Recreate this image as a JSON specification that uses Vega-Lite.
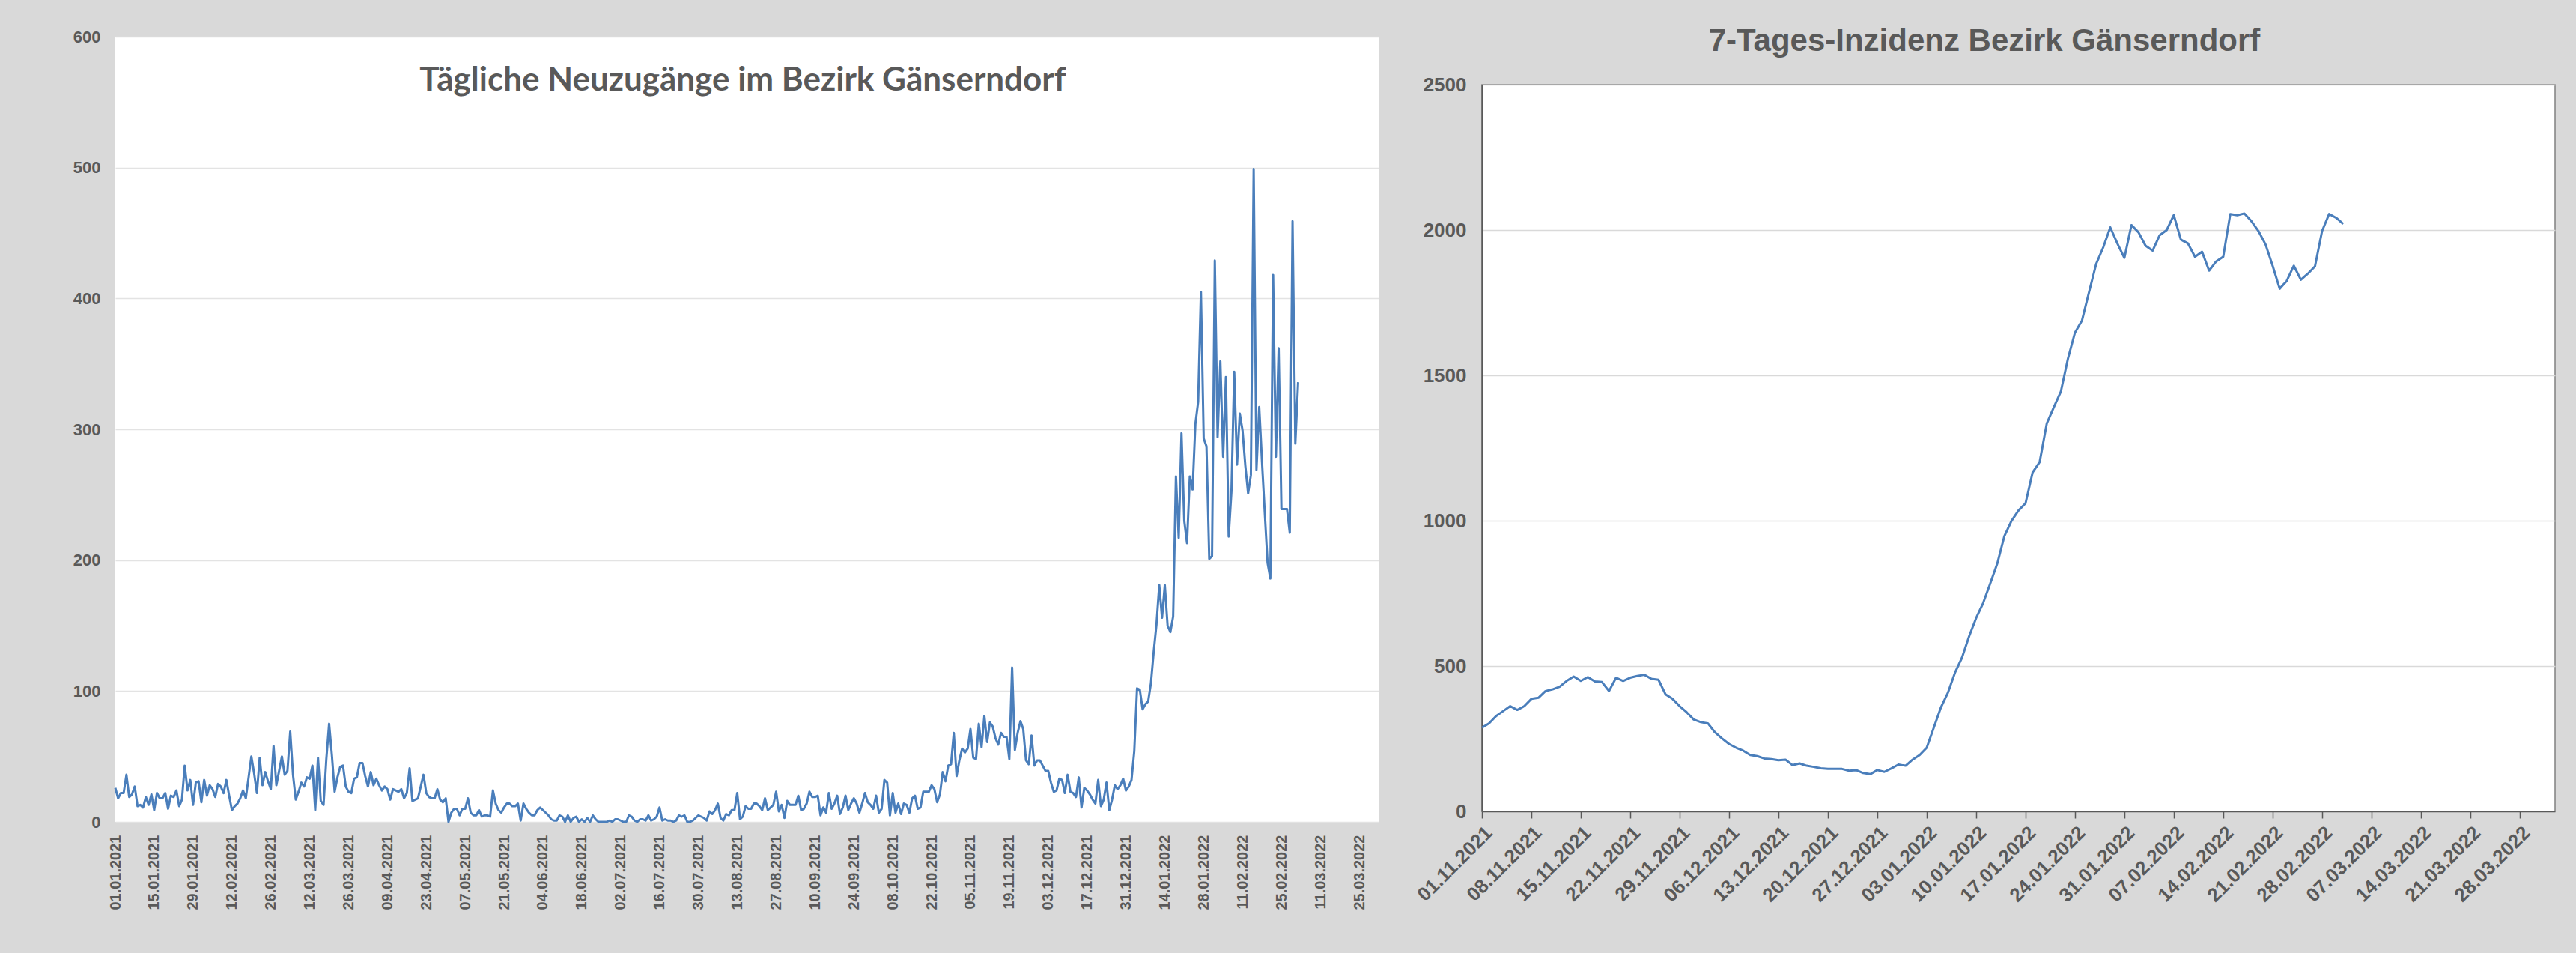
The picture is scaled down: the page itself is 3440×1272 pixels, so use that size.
{
"$schema": "https://vega.github.io/schema/vega-lite/v6.json",
"background": "#d9d9d9",
"padding": {"left": 97, "top": 33, "right": 28, "bottom": 57},
"bounds": "flush",
"spacing": 138,
"config": {"font": "Liberation Sans", "axis": {"labelFont": "Liberation Sans", "labelColor": "#595959", "labelFontWeight": "bold"}},
"datasets": {
"daily": [
{"date":"2021-01-01","cases":26},{"date":"2021-01-02","cases":18},{"date":"2021-01-03","cases":22},{"date":"2021-01-04","cases":22},{"date":"2021-01-05","cases":36},{"date":"2021-01-06","cases":19},{"date":"2021-01-07","cases":21},{"date":"2021-01-08","cases":27},{"date":"2021-01-09","cases":12},{"date":"2021-01-10","cases":13},
{"date":"2021-01-11","cases":11},{"date":"2021-01-12","cases":19},{"date":"2021-01-13","cases":13},{"date":"2021-01-14","cases":21},{"date":"2021-01-15","cases":9},{"date":"2021-01-16","cases":22},{"date":"2021-01-17","cases":18},{"date":"2021-01-18","cases":18},{"date":"2021-01-19","cases":22},{"date":"2021-01-20","cases":10},
{"date":"2021-01-21","cases":20},{"date":"2021-01-22","cases":19},{"date":"2021-01-23","cases":24},{"date":"2021-01-24","cases":12},{"date":"2021-01-25","cases":17},{"date":"2021-01-26","cases":43},{"date":"2021-01-27","cases":24},{"date":"2021-01-28","cases":32},{"date":"2021-01-29","cases":13},{"date":"2021-01-30","cases":30},{"date":"2021-01-31","cases":31},
{"date":"2021-02-01","cases":15},{"date":"2021-02-02","cases":32},{"date":"2021-02-03","cases":20},{"date":"2021-02-04","cases":28},{"date":"2021-02-05","cases":25},{"date":"2021-02-06","cases":19},{"date":"2021-02-07","cases":29},{"date":"2021-02-08","cases":27},{"date":"2021-02-09","cases":22},{"date":"2021-02-10","cases":32},
{"date":"2021-02-11","cases":20},{"date":"2021-02-12","cases":9},{"date":"2021-02-13","cases":12},{"date":"2021-02-14","cases":14},{"date":"2021-02-15","cases":18},{"date":"2021-02-16","cases":24},{"date":"2021-02-17","cases":18},{"date":"2021-02-18","cases":34},{"date":"2021-02-19","cases":50},{"date":"2021-02-20","cases":37},
{"date":"2021-02-21","cases":22},{"date":"2021-02-22","cases":49},{"date":"2021-02-23","cases":28},{"date":"2021-02-24","cases":38},{"date":"2021-02-25","cases":31},{"date":"2021-02-26","cases":25},{"date":"2021-02-27","cases":58},{"date":"2021-02-28","cases":28},
{"date":"2021-03-01","cases":39},{"date":"2021-03-02","cases":50},{"date":"2021-03-03","cases":36},{"date":"2021-03-04","cases":39},{"date":"2021-03-05","cases":69},{"date":"2021-03-06","cases":36},{"date":"2021-03-07","cases":17},{"date":"2021-03-08","cases":23},{"date":"2021-03-09","cases":30},{"date":"2021-03-10","cases":27},
{"date":"2021-03-11","cases":34},{"date":"2021-03-12","cases":33},{"date":"2021-03-13","cases":43},{"date":"2021-03-14","cases":9},{"date":"2021-03-15","cases":49},{"date":"2021-03-16","cases":16},{"date":"2021-03-17","cases":13},{"date":"2021-03-18","cases":48},{"date":"2021-03-19","cases":75},{"date":"2021-03-20","cases":51},
{"date":"2021-03-21","cases":23},{"date":"2021-03-22","cases":34},{"date":"2021-03-23","cases":42},{"date":"2021-03-24","cases":43},{"date":"2021-03-25","cases":27},{"date":"2021-03-26","cases":23},{"date":"2021-03-27","cases":22},{"date":"2021-03-28","cases":33},{"date":"2021-03-29","cases":34},{"date":"2021-03-30","cases":45},{"date":"2021-03-31","cases":45},
{"date":"2021-04-01","cases":35},{"date":"2021-04-02","cases":27},{"date":"2021-04-03","cases":38},{"date":"2021-04-04","cases":28},{"date":"2021-04-05","cases":33},{"date":"2021-04-06","cases":28},{"date":"2021-04-07","cases":24},{"date":"2021-04-08","cases":27},{"date":"2021-04-09","cases":25},{"date":"2021-04-10","cases":17},
{"date":"2021-04-11","cases":25},{"date":"2021-04-12","cases":24},{"date":"2021-04-13","cases":23},{"date":"2021-04-14","cases":25},{"date":"2021-04-15","cases":18},{"date":"2021-04-16","cases":22},{"date":"2021-04-17","cases":41},{"date":"2021-04-18","cases":16},{"date":"2021-04-19","cases":17},{"date":"2021-04-20","cases":18},
{"date":"2021-04-21","cases":27},{"date":"2021-04-22","cases":36},{"date":"2021-04-23","cases":22},{"date":"2021-04-24","cases":19},{"date":"2021-04-25","cases":18},{"date":"2021-04-26","cases":18},{"date":"2021-04-27","cases":25},{"date":"2021-04-28","cases":17},{"date":"2021-04-29","cases":15},{"date":"2021-04-30","cases":18},
{"date":"2021-05-01","cases":0},{"date":"2021-05-02","cases":7},{"date":"2021-05-03","cases":10},{"date":"2021-05-04","cases":10},{"date":"2021-05-05","cases":5},{"date":"2021-05-06","cases":10},{"date":"2021-05-07","cases":10},{"date":"2021-05-08","cases":18},{"date":"2021-05-09","cases":7},{"date":"2021-05-10","cases":5},
{"date":"2021-05-11","cases":5},{"date":"2021-05-12","cases":9},{"date":"2021-05-13","cases":4},{"date":"2021-05-14","cases":5},{"date":"2021-05-15","cases":5},{"date":"2021-05-16","cases":4},{"date":"2021-05-17","cases":24},{"date":"2021-05-18","cases":14},{"date":"2021-05-19","cases":9},{"date":"2021-05-20","cases":7},
{"date":"2021-05-21","cases":11},{"date":"2021-05-22","cases":14},{"date":"2021-05-23","cases":14},{"date":"2021-05-24","cases":12},{"date":"2021-05-25","cases":12},{"date":"2021-05-26","cases":14},{"date":"2021-05-27","cases":1},{"date":"2021-05-28","cases":14},{"date":"2021-05-29","cases":10},{"date":"2021-05-30","cases":7},{"date":"2021-05-31","cases":5},
{"date":"2021-06-01","cases":5},{"date":"2021-06-02","cases":9},{"date":"2021-06-03","cases":11},{"date":"2021-06-04","cases":9},{"date":"2021-06-05","cases":7},{"date":"2021-06-06","cases":5},{"date":"2021-06-07","cases":2},{"date":"2021-06-08","cases":1},{"date":"2021-06-09","cases":1},{"date":"2021-06-10","cases":5},
{"date":"2021-06-11","cases":4},{"date":"2021-06-12","cases":0},{"date":"2021-06-13","cases":5},{"date":"2021-06-14","cases":0},{"date":"2021-06-15","cases":3},{"date":"2021-06-16","cases":4},{"date":"2021-06-17","cases":0},{"date":"2021-06-18","cases":2},{"date":"2021-06-19","cases":0},{"date":"2021-06-20","cases":3},
{"date":"2021-06-21","cases":0},{"date":"2021-06-22","cases":5},{"date":"2021-06-23","cases":2},{"date":"2021-06-24","cases":0},{"date":"2021-06-25","cases":0},{"date":"2021-06-26","cases":0},{"date":"2021-06-27","cases":0},{"date":"2021-06-28","cases":1},{"date":"2021-06-29","cases":0},{"date":"2021-06-30","cases":2},
{"date":"2021-07-01","cases":2},{"date":"2021-07-02","cases":1},{"date":"2021-07-03","cases":0},{"date":"2021-07-04","cases":0},{"date":"2021-07-05","cases":5},{"date":"2021-07-06","cases":4},{"date":"2021-07-07","cases":1},{"date":"2021-07-08","cases":0},{"date":"2021-07-09","cases":2},{"date":"2021-07-10","cases":2},
{"date":"2021-07-11","cases":1},{"date":"2021-07-12","cases":5},{"date":"2021-07-13","cases":1},{"date":"2021-07-14","cases":2},{"date":"2021-07-15","cases":4},{"date":"2021-07-16","cases":11},{"date":"2021-07-17","cases":1},{"date":"2021-07-18","cases":2},{"date":"2021-07-19","cases":1},{"date":"2021-07-20","cases":1},
{"date":"2021-07-21","cases":0},{"date":"2021-07-22","cases":1},{"date":"2021-07-23","cases":5},{"date":"2021-07-24","cases":4},{"date":"2021-07-25","cases":5},{"date":"2021-07-26","cases":0},{"date":"2021-07-27","cases":0},{"date":"2021-07-28","cases":1},{"date":"2021-07-29","cases":3},{"date":"2021-07-30","cases":5},{"date":"2021-07-31","cases":4},
{"date":"2021-08-01","cases":3},{"date":"2021-08-02","cases":1},{"date":"2021-08-03","cases":8},{"date":"2021-08-04","cases":6},{"date":"2021-08-05","cases":9},{"date":"2021-08-06","cases":14},{"date":"2021-08-07","cases":3},{"date":"2021-08-08","cases":1},{"date":"2021-08-09","cases":6},{"date":"2021-08-10","cases":5},
{"date":"2021-08-11","cases":9},{"date":"2021-08-12","cases":9},{"date":"2021-08-13","cases":22},{"date":"2021-08-14","cases":2},{"date":"2021-08-15","cases":4},{"date":"2021-08-16","cases":12},{"date":"2021-08-17","cases":10},{"date":"2021-08-18","cases":10},{"date":"2021-08-19","cases":14},{"date":"2021-08-20","cases":14},
{"date":"2021-08-21","cases":12},{"date":"2021-08-22","cases":9},{"date":"2021-08-23","cases":18},{"date":"2021-08-24","cases":9},{"date":"2021-08-25","cases":11},{"date":"2021-08-26","cases":13},{"date":"2021-08-27","cases":23},{"date":"2021-08-28","cases":8},{"date":"2021-08-29","cases":13},{"date":"2021-08-30","cases":3},{"date":"2021-08-31","cases":16},
{"date":"2021-09-01","cases":13},{"date":"2021-09-02","cases":13},{"date":"2021-09-03","cases":13},{"date":"2021-09-04","cases":20},{"date":"2021-09-05","cases":9},{"date":"2021-09-06","cases":10},{"date":"2021-09-07","cases":14},{"date":"2021-09-08","cases":23},{"date":"2021-09-09","cases":19},{"date":"2021-09-10","cases":19},
{"date":"2021-09-11","cases":20},{"date":"2021-09-12","cases":5},{"date":"2021-09-13","cases":11},{"date":"2021-09-14","cases":7},{"date":"2021-09-15","cases":22},{"date":"2021-09-16","cases":10},{"date":"2021-09-17","cases":14},{"date":"2021-09-18","cases":20},{"date":"2021-09-19","cases":6},{"date":"2021-09-20","cases":11},
{"date":"2021-09-21","cases":20},{"date":"2021-09-22","cases":9},{"date":"2021-09-23","cases":14},{"date":"2021-09-24","cases":18},{"date":"2021-09-25","cases":14},{"date":"2021-09-26","cases":7},{"date":"2021-09-27","cases":14},{"date":"2021-09-28","cases":22},{"date":"2021-09-29","cases":15},{"date":"2021-09-30","cases":13},
{"date":"2021-10-01","cases":10},{"date":"2021-10-02","cases":20},{"date":"2021-10-03","cases":7},{"date":"2021-10-04","cases":10},{"date":"2021-10-05","cases":32},{"date":"2021-10-06","cases":30},{"date":"2021-10-07","cases":5},{"date":"2021-10-08","cases":22},{"date":"2021-10-09","cases":7},{"date":"2021-10-10","cases":14},
{"date":"2021-10-11","cases":6},{"date":"2021-10-12","cases":14},{"date":"2021-10-13","cases":13},{"date":"2021-10-14","cases":7},{"date":"2021-10-15","cases":18},{"date":"2021-10-16","cases":20},{"date":"2021-10-17","cases":10},{"date":"2021-10-18","cases":11},{"date":"2021-10-19","cases":23},{"date":"2021-10-20","cases":23},
{"date":"2021-10-21","cases":23},{"date":"2021-10-22","cases":28},{"date":"2021-10-23","cases":25},{"date":"2021-10-24","cases":15},{"date":"2021-10-25","cases":21},{"date":"2021-10-26","cases":38},{"date":"2021-10-27","cases":31},{"date":"2021-10-28","cases":43},{"date":"2021-10-29","cases":44},{"date":"2021-10-30","cases":68},{"date":"2021-10-31","cases":35},
{"date":"2021-11-01","cases":47},{"date":"2021-11-02","cases":56},{"date":"2021-11-03","cases":53},{"date":"2021-11-04","cases":56},{"date":"2021-11-05","cases":71},{"date":"2021-11-06","cases":49},{"date":"2021-11-07","cases":48},{"date":"2021-11-08","cases":75},{"date":"2021-11-09","cases":57},{"date":"2021-11-10","cases":81},
{"date":"2021-11-11","cases":61},{"date":"2021-11-12","cases":76},{"date":"2021-11-13","cases":73},{"date":"2021-11-14","cases":64},{"date":"2021-11-15","cases":59},{"date":"2021-11-16","cases":68},{"date":"2021-11-17","cases":65},{"date":"2021-11-18","cases":65},{"date":"2021-11-19","cases":48},{"date":"2021-11-20","cases":118},
{"date":"2021-11-21","cases":55},{"date":"2021-11-22","cases":68},{"date":"2021-11-23","cases":77},{"date":"2021-11-24","cases":71},{"date":"2021-11-25","cases":47},{"date":"2021-11-26","cases":44},{"date":"2021-11-27","cases":66},{"date":"2021-11-28","cases":43},{"date":"2021-11-29","cases":47},{"date":"2021-11-30","cases":47},
{"date":"2021-12-01","cases":43},{"date":"2021-12-02","cases":39},{"date":"2021-12-03","cases":39},{"date":"2021-12-04","cases":30},{"date":"2021-12-05","cases":23},{"date":"2021-12-06","cases":24},{"date":"2021-12-07","cases":33},{"date":"2021-12-08","cases":32},{"date":"2021-12-09","cases":22},{"date":"2021-12-10","cases":36},
{"date":"2021-12-11","cases":23},{"date":"2021-12-12","cases":22},{"date":"2021-12-13","cases":19},{"date":"2021-12-14","cases":34},{"date":"2021-12-15","cases":11},{"date":"2021-12-16","cases":26},{"date":"2021-12-17","cases":24},{"date":"2021-12-18","cases":21},{"date":"2021-12-19","cases":17},{"date":"2021-12-20","cases":14},
{"date":"2021-12-21","cases":32},{"date":"2021-12-22","cases":12},{"date":"2021-12-23","cases":17},{"date":"2021-12-24","cases":30},{"date":"2021-12-25","cases":9},{"date":"2021-12-26","cases":17},{"date":"2021-12-27","cases":28},{"date":"2021-12-28","cases":25},{"date":"2021-12-29","cases":28},{"date":"2021-12-30","cases":33},{"date":"2021-12-31","cases":24},
{"date":"2022-01-01","cases":27},{"date":"2022-01-02","cases":32},{"date":"2022-01-03","cases":54},{"date":"2022-01-04","cases":102},{"date":"2022-01-05","cases":101},{"date":"2022-01-06","cases":86},{"date":"2022-01-07","cases":90},{"date":"2022-01-08","cases":92},{"date":"2022-01-09","cases":106},{"date":"2022-01-10","cases":130},
{"date":"2022-01-11","cases":151},{"date":"2022-01-12","cases":181},{"date":"2022-01-13","cases":156},{"date":"2022-01-14","cases":181},{"date":"2022-01-15","cases":150},{"date":"2022-01-16","cases":145},{"date":"2022-01-17","cases":157},{"date":"2022-01-18","cases":264},{"date":"2022-01-19","cases":217},{"date":"2022-01-20","cases":297},
{"date":"2022-01-21","cases":230},{"date":"2022-01-22","cases":213},{"date":"2022-01-23","cases":264},{"date":"2022-01-24","cases":254},{"date":"2022-01-25","cases":304},{"date":"2022-01-26","cases":321},{"date":"2022-01-27","cases":405},{"date":"2022-01-28","cases":293},{"date":"2022-01-29","cases":287},{"date":"2022-01-30","cases":201},{"date":"2022-01-31","cases":203},
{"date":"2022-02-01","cases":429},{"date":"2022-02-02","cases":294},{"date":"2022-02-03","cases":352},{"date":"2022-02-04","cases":279},{"date":"2022-02-05","cases":340},{"date":"2022-02-06","cases":218},{"date":"2022-02-07","cases":253},{"date":"2022-02-08","cases":344},{"date":"2022-02-09","cases":273},{"date":"2022-02-10","cases":312},
{"date":"2022-02-11","cases":299},{"date":"2022-02-12","cases":272},{"date":"2022-02-13","cases":251},{"date":"2022-02-14","cases":265},{"date":"2022-02-15","cases":499},{"date":"2022-02-16","cases":269},{"date":"2022-02-17","cases":317},{"date":"2022-02-18","cases":275},{"date":"2022-02-19","cases":236},{"date":"2022-02-20","cases":198},
{"date":"2022-02-21","cases":186},{"date":"2022-02-22","cases":418},{"date":"2022-02-23","cases":279},{"date":"2022-02-24","cases":362},{"date":"2022-02-25","cases":239},{"date":"2022-02-26","cases":239},{"date":"2022-02-27","cases":239},{"date":"2022-02-28","cases":221},
{"date":"2022-03-01","cases":459},{"date":"2022-03-02","cases":289},{"date":"2022-03-03","cases":336}
],
"inz": [
{"date":"2021-11-01","value":288},{"date":"2021-11-02","value":303},{"date":"2021-11-03","value":328},{"date":"2021-11-04","value":345},{"date":"2021-11-05","value":362},{"date":"2021-11-06","value":349},{"date":"2021-11-07","value":362},{"date":"2021-11-08","value":387},{"date":"2021-11-09","value":391},{"date":"2021-11-10","value":414},
{"date":"2021-11-11","value":420},{"date":"2021-11-12","value":429},{"date":"2021-11-13","value":449},{"date":"2021-11-14","value":464},{"date":"2021-11-15","value":449},{"date":"2021-11-16","value":462},{"date":"2021-11-17","value":447},{"date":"2021-11-18","value":445},{"date":"2021-11-19","value":414},{"date":"2021-11-20","value":460},
{"date":"2021-11-21","value":449},{"date":"2021-11-22","value":460},{"date":"2021-11-23","value":466},{"date":"2021-11-24","value":470},{"date":"2021-11-25","value":456},{"date":"2021-11-26","value":453},{"date":"2021-11-27","value":403},{"date":"2021-11-28","value":387},{"date":"2021-11-29","value":362},{"date":"2021-11-30","value":341},
{"date":"2021-12-01","value":316},{"date":"2021-12-02","value":307},{"date":"2021-12-03","value":303},{"date":"2021-12-04","value":272},{"date":"2021-12-05","value":251},{"date":"2021-12-06","value":232},{"date":"2021-12-07","value":219},{"date":"2021-12-08","value":209},{"date":"2021-12-09","value":194},{"date":"2021-12-10","value":190},
{"date":"2021-12-11","value":182},{"date":"2021-12-12","value":180},{"date":"2021-12-13","value":176},{"date":"2021-12-14","value":178},{"date":"2021-12-15","value":159},{"date":"2021-12-16","value":165},{"date":"2021-12-17","value":157},{"date":"2021-12-18","value":153},{"date":"2021-12-19","value":148},{"date":"2021-12-20","value":146},
{"date":"2021-12-21","value":146},{"date":"2021-12-22","value":146},{"date":"2021-12-23","value":140},{"date":"2021-12-24","value":142},{"date":"2021-12-25","value":132},{"date":"2021-12-26","value":128},{"date":"2021-12-27","value":142},{"date":"2021-12-28","value":136},{"date":"2021-12-29","value":148},{"date":"2021-12-30","value":161},{"date":"2021-12-31","value":157},
{"date":"2022-01-01","value":178},{"date":"2022-01-02","value":194},{"date":"2022-01-03","value":219},{"date":"2022-01-04","value":288},{"date":"2022-01-05","value":357},{"date":"2022-01-06","value":408},{"date":"2022-01-07","value":477},{"date":"2022-01-08","value":529},{"date":"2022-01-09","value":602},{"date":"2022-01-10","value":665},
{"date":"2022-01-11","value":717},{"date":"2022-01-12","value":784},{"date":"2022-01-13","value":853},{"date":"2022-01-14","value":947},{"date":"2022-01-15","value":999},{"date":"2022-01-16","value":1035},{"date":"2022-01-17","value":1060},{"date":"2022-01-18","value":1166},{"date":"2022-01-19","value":1202},{"date":"2022-01-20","value":1334},
{"date":"2022-01-21","value":1390},{"date":"2022-01-22","value":1444},{"date":"2022-01-23","value":1557},{"date":"2022-01-24","value":1647},{"date":"2022-01-25","value":1689},{"date":"2022-01-26","value":1787},{"date":"2022-01-27","value":1883},{"date":"2022-01-28","value":1940},{"date":"2022-01-29","value":2009},{"date":"2022-01-30","value":1954},{"date":"2022-01-31","value":1904},
{"date":"2022-02-01","value":2017},{"date":"2022-02-02","value":1992},{"date":"2022-02-03","value":1946},{"date":"2022-02-04","value":1929},{"date":"2022-02-05","value":1982},{"date":"2022-02-06","value":2000},{"date":"2022-02-07","value":2051},{"date":"2022-02-08","value":1967},{"date":"2022-02-09","value":1954},{"date":"2022-02-10","value":1908},
{"date":"2022-02-11","value":1925},{"date":"2022-02-12","value":1860},{"date":"2022-02-13","value":1892},{"date":"2022-02-14","value":1908},{"date":"2022-02-15","value":2055},{"date":"2022-02-16","value":2051},{"date":"2022-02-17","value":2057},{"date":"2022-02-18","value":2030},{"date":"2022-02-19","value":1996},{"date":"2022-02-20","value":1950},
{"date":"2022-02-21","value":1877},{"date":"2022-02-22","value":1798},{"date":"2022-02-23","value":1825},{"date":"2022-02-24","value":1877},{"date":"2022-02-25","value":1829},{"date":"2022-02-26","value":1850},{"date":"2022-02-27","value":1875},{"date":"2022-02-28","value":1996},
{"date":"2022-03-01","value":2055},{"date":"2022-03-02","value":2042},{"date":"2022-03-03","value":2021}
]
},
"hconcat": [
{
"width": 1687, "height": 1048,
"view": {"fill": "white", "stroke": null},
"layer": [
{
"data": {"name": "daily"},
"mark": {"type": "line", "color": "#4a7ebb", "strokeWidth": 3, "strokeJoin": "round"},
"encoding": {
"x": {"field": "date", "type": "temporal",
"scale": {"type": "utc", "nice": false, "domain": [{"year":2021,"month":1,"date":1,"utc":true},{"year":2022,"month":4,"date":1,"utc":true}]},
"axis": {"title": null, "grid": false, "domain": false, "ticks": false, "labelAngle": -90, "labelFontSize": 20, "labelPadding": 17, "labelOverlap": false, "labelFlush": false,
"labelExpr": "utcFormat(datum.value, '%d.%m.%Y')",
"values": [
{"year":2021,"month":1,"date":1,"utc":true},{"year":2021,"month":1,"date":15,"utc":true},{"year":2021,"month":1,"date":29,"utc":true},{"year":2021,"month":2,"date":12,"utc":true},{"year":2021,"month":2,"date":26,"utc":true},
{"year":2021,"month":3,"date":12,"utc":true},{"year":2021,"month":3,"date":26,"utc":true},{"year":2021,"month":4,"date":9,"utc":true},{"year":2021,"month":4,"date":23,"utc":true},{"year":2021,"month":5,"date":7,"utc":true},
{"year":2021,"month":5,"date":21,"utc":true},{"year":2021,"month":6,"date":4,"utc":true},{"year":2021,"month":6,"date":18,"utc":true},{"year":2021,"month":7,"date":2,"utc":true},{"year":2021,"month":7,"date":16,"utc":true},
{"year":2021,"month":7,"date":30,"utc":true},{"year":2021,"month":8,"date":13,"utc":true},{"year":2021,"month":8,"date":27,"utc":true},{"year":2021,"month":9,"date":10,"utc":true},{"year":2021,"month":9,"date":24,"utc":true},
{"year":2021,"month":10,"date":8,"utc":true},{"year":2021,"month":10,"date":22,"utc":true},{"year":2021,"month":11,"date":5,"utc":true},{"year":2021,"month":11,"date":19,"utc":true},{"year":2021,"month":12,"date":3,"utc":true},
{"year":2021,"month":12,"date":17,"utc":true},{"year":2021,"month":12,"date":31,"utc":true},{"year":2022,"month":1,"date":14,"utc":true},{"year":2022,"month":1,"date":28,"utc":true},{"year":2022,"month":2,"date":11,"utc":true},
{"year":2022,"month":2,"date":25,"utc":true},{"year":2022,"month":3,"date":11,"utc":true},{"year":2022,"month":3,"date":25,"utc":true}
]}},
"y": {"field": "cases", "type": "quantitative",
"scale": {"domain": [0, 600], "nice": false},
"axis": {"title": null, "domain": false, "ticks": false, "values": [0,100,200,300,400,500,600], "labelFontSize": 22, "labelPadding": 20, "gridColor": "#e3e3e3", "gridWidth": 1.5}}
}
},
{
"data": {"values": [{}]},
"mark": {"type": "text", "text": "Tägliche Neuzugänge im Bezirk Gänserndorf", "font": "Lato", "fontSize": 44, "fontWeight": "bold", "color": "#595959", "align": "center", "baseline": "middle"},
"encoding": {
"x": {"datum": {"year":2021,"month":8,"date":15,"utc":true}, "type": "temporal"},
"y": {"datum": 566, "type": "quantitative"}
}
}
]
},
{
"vconcat": [
{
"width": 1433, "height": 64,
"data": {"values": []},
"mark": "point",
"view": {"stroke": null, "fill": null}
},
{
"width": 1433, "height": 970,
"title": {"text": "7-Tages-Inzidenz Bezirk Gänserndorf", "font": "Liberation Sans", "fontSize": 42, "fontWeight": "bold", "color": "#595959", "offset": 23, "anchor": "middle", "frame": "bounds"},
"view": {"fill": "white", "stroke": "#808080", "strokeWidth": 1.5},
"data": {"name": "inz"},
"mark": {"type": "line", "color": "#4a7ebb", "strokeWidth": 3, "strokeJoin": "round"},
"encoding": {
"x": {"field": "date", "type": "temporal",
"scale": {"type": "utc", "nice": false, "domain": [{"year":2021,"month":11,"date":1,"utc":true},{"year":2022,"month":4,"date":2,"utc":true}]},
"axis": {"title": null, "grid": false, "domainColor": "#595959", "domainWidth": 1.5, "tickColor": "#595959", "tickWidth": 1.5, "tickSize": 9, "labelAngle": -45, "labelFontSize": 26, "labelPadding": 6, "labelOverlap": false, "labelFlush": false,
"labelExpr": "utcFormat(datum.value, '%d.%m.%Y')",
"values": [
{"year":2021,"month":11,"date":1,"utc":true},{"year":2021,"month":11,"date":8,"utc":true},{"year":2021,"month":11,"date":15,"utc":true},{"year":2021,"month":11,"date":22,"utc":true},{"year":2021,"month":11,"date":29,"utc":true},
{"year":2021,"month":12,"date":6,"utc":true},{"year":2021,"month":12,"date":13,"utc":true},{"year":2021,"month":12,"date":20,"utc":true},{"year":2021,"month":12,"date":27,"utc":true},{"year":2022,"month":1,"date":3,"utc":true},
{"year":2022,"month":1,"date":10,"utc":true},{"year":2022,"month":1,"date":17,"utc":true},{"year":2022,"month":1,"date":24,"utc":true},{"year":2022,"month":1,"date":31,"utc":true},{"year":2022,"month":2,"date":7,"utc":true},
{"year":2022,"month":2,"date":14,"utc":true},{"year":2022,"month":2,"date":21,"utc":true},{"year":2022,"month":2,"date":28,"utc":true},{"year":2022,"month":3,"date":7,"utc":true},{"year":2022,"month":3,"date":14,"utc":true},
{"year":2022,"month":3,"date":21,"utc":true},{"year":2022,"month":3,"date":28,"utc":true}
]}},
"y": {"field": "value", "type": "quantitative",
"scale": {"domain": [0, 2500], "nice": false},
"axis": {"title": null, "ticks": false, "format": "d", "domainColor": "#595959", "domainWidth": 2, "values": [0,500,1000,1500,2000,2500], "labelFontSize": 26, "labelPadding": 21, "gridColor": "#d9d9d9", "gridWidth": 1.5}}
}
}
],
"spacing": 0,
"bounds": "flush"
}
]
}
